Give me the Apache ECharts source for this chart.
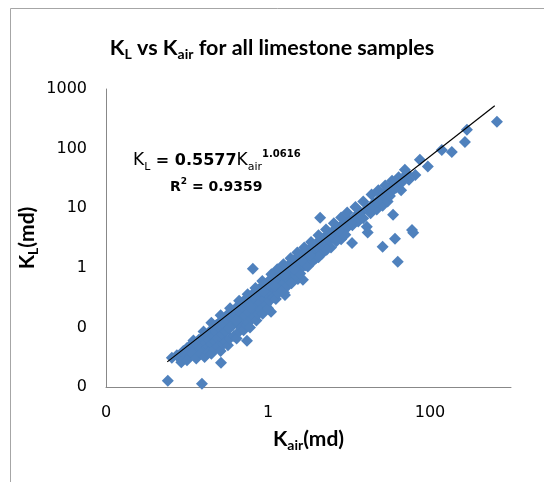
<!DOCTYPE html>
<html>
<head>
<meta charset="utf-8">
<script src="https://cdn.jsdelivr.net/npm/echarts@6/dist/echarts.min.js"></script>
<style>
html,body{margin:0;padding:0;background:#fff;}
#chart{width:544px;height:482px;}
</style>
</head>
<body>
<div id="chart"></div>
<script>
// K_air (md) values of the samples
var kAir = [
  0.058, 0.153, 0.065, 0.075, 0.082, 0.09, 0.095, 0.1, 0.105, 0.11,
  0.11, 0.12, 0.125, 0.13, 0.14, 0.14, 0.15, 0.155, 0.16, 0.17,
  0.17, 0.18, 0.19, 0.19, 0.2, 0.21, 0.21, 0.22, 0.23, 0.23,
  0.24, 0.25, 0.26, 0.263, 0.27, 0.28, 0.29, 0.3, 0.31, 0.32,
  0.33, 0.35, 0.36, 0.37, 0.39, 0.4, 0.42, 0.43, 0.45, 0.47,
  0.48, 0.5, 0.52, 0.53, 0.55, 0.55, 0.58, 0.6, 0.62, 0.65,
  0.65, 0.67, 0.7, 0.72, 0.75, 0.78, 0.8, 0.83, 0.87, 0.9,
  0.92, 0.96, 1.0, 1.02, 1.07, 1.09, 1.1, 1.15, 1.2, 1.25,
  1.3, 1.35, 1.4, 1.45, 1.5, 1.58, 1.6, 1.62, 1.65, 1.7,
  1.8, 1.85, 1.9, 2.0, 2.05, 2.15, 2.3, 2.34, 2.4, 2.5,
  2.6, 2.7, 2.75, 2.9, 3.0, 3.2, 3.3, 3.5, 3.7, 3.9,
  4.0, 4.3, 4.4, 4.6, 4.8, 5.1, 5.5, 5.8, 6.0, 6.3,
  6.8, 7.2, 7.7, 8.0, 8.5, 9.2, 10, 10.9, 11, 12,
  13, 14, 15, 16.6, 17, 17, 18.5, 20, 22, 24,
  25, 26, 26, 28, 30, 33, 35, 35, 37, 38,
  40, 42, 44, 45, 49, 55, 60, 62, 66, 75,
  94, 140, 186, 270, 286, 671,
  0.085, 0.1, 0.115, 0.13, 0.15, 0.165, 0.18, 0.2, 0.22, 0.24,
  0.26, 0.28, 0.3, 0.32, 0.34, 0.38, 0.41, 0.44, 0.46, 0.5,
  0.54, 0.57, 0.6, 0.63, 0.68, 0.72, 0.76, 0.82, 0.86, 0.95,
  1.0, 1.05, 1.15, 1.25, 1.35, 1.5, 1.75, 1.95, 2.2, 2.5,
  3.1, 3.6, 4.2, 5.3, 7, 9,
  0.12, 0.16, 0.2, 0.26, 0.34, 0.44, 0.56, 0.7, 0.85, 1.1,
  1.3, 1.55, 1.9, 2.3, 2.8, 3.4, 4.2, 5.2, 6.5, 8,
  9.5, 12, 15, 19, 23, 28, 34,
  0.4, 0.6, 0.9, 1.2, 1.6, 2.1, 2.6, 3.3, 4.5, 5.8,
  7.5, 10.5, 13.5, 18, 22, 27, 32, 36, 41, 46, 52
];
// K_L (md) values of the samples
var kL = [
  0.0127, 0.0113, 0.031, 0.034, 0.030, 0.040, 0.034, 0.045, 0.038, 0.033,
  0.050, 0.042, 0.055, 0.037, 0.050, 0.062, 0.045, 0.068, 0.040, 0.055,
  0.075, 0.048, 0.085, 0.062, 0.052, 0.095, 0.072, 0.058, 0.11, 0.085,
  0.066, 0.12, 0.095, 0.0255, 0.075, 0.14, 0.11, 0.085, 0.16, 0.13,
  0.095, 0.18, 0.14, 0.11, 0.20, 0.16, 0.12, 0.23, 0.18, 0.14,
  0.26, 0.21, 0.16, 0.30, 0.0596, 0.24, 0.18, 0.33, 0.27, 0.96,
  0.20, 0.38, 0.30, 0.23, 0.42, 0.34, 0.26, 0.48, 0.38, 0.30,
  0.53, 0.43, 0.34, 0.60, 0.47, 0.183, 0.38, 0.68, 0.55, 0.42,
  0.78, 0.62, 0.48, 0.88, 0.70, 0.38, 0.55, 0.35, 1.0, 0.80,
  0.62, 1.15, 0.92, 0.72, 1.3, 1.05, 1.5, 0.65, 1.2, 0.95,
  1.7, 0.63, 1.4, 1.1, 1.95, 1.6, 1.25, 2.3, 1.85, 1.45,
  2.6, 2.1, 6.9, 1.7, 3.1, 2.5, 3.6, 2.9, 2.2, 4.1,
  3.4, 4.8, 3.9, 3.0, 5.5, 4.5, 6.3, 2.6, 5.2, 7.3,
  6.0, 8.5, 6.8, 4.9, 3.9, 10, 8.2, 12, 9.5, 14,
  17, 2.25, 11, 16, 13, 19, 7.75, 25, 3.07, 22,
  1.26, 26, 20, 30, 44, 30, 4.3, 3.87, 36, 65,
  50, 95, 88, 129, 207, 282,
  0.026, 0.028, 0.036, 0.030, 0.036, 0.032, 0.038, 0.036, 0.043, 0.048,
  0.040, 0.052, 0.058, 0.050, 0.066, 0.072, 0.065, 0.085, 0.10, 0.09,
  0.11, 0.12, 0.10, 0.14, 0.15, 0.13, 0.17, 0.20, 0.17, 0.24,
  0.21, 0.28, 0.32, 0.30, 0.38, 0.42, 0.50, 0.55, 0.75, 0.80,
  1.05, 1.3, 1.5, 2.0, 2.8, 3.6,
  0.06, 0.085, 0.12, 0.16, 0.21, 0.28, 0.36, 0.46, 0.60, 0.78,
  0.95, 1.15, 1.45, 1.8, 2.2, 2.7, 3.5, 4.4, 5.6, 7.0,
  8.5, 10.5, 13, 17, 20, 24, 29,
  0.13, 0.22, 0.40, 0.50, 0.75, 0.95, 1.3, 1.6, 2.5, 3.5,
  4.2, 5.8, 8.0, 10, 13, 18, 16, 21, 33, 28, 38
];
// power-law trend line end points
var trendX = [0.057, 630];
var trendY = [0.0264, 524];
// tick labels (Excel "0" number format)
var xTickValues = [0.01, 1, 100];
var xTickLabels = ['0', '1', '100'];
var yTickValues = [0.01, 0.1, 1, 10, 100, 1000];
var yTickLabels = ['0', '0', '1', '10', '100', '1000'];

var points = kAir.map(function (x, i) { return [x, kL[i]]; });
var trend = trendX.map(function (x, i) { return [x, trendY[i]]; });

function tickLabel(values, labels) {
  return function (v) {
    for (var i = 0; i < values.length; i++) {
      if (Math.abs(Math.log10(v) - Math.log10(values[i])) < 1e-6) return labels[i];
    }
    return '';
  };
}

var chart = echarts.init(document.getElementById('chart'), null, {renderer: 'canvas'});
var labelFont = 'DejaVu Sans';
var titleRich = {
  b: {fontFamily: 'Lato', fontWeight: 'bold', fontSize: 21.5, color: '#000', lineHeight: 26},
  s: {fontFamily: 'Lato', fontWeight: 'bold', fontSize: 14, color: '#000', lineHeight: 12, verticalAlign: 'bottom'}
};
var nameRich = {
  b: {fontFamily: 'Lato', fontWeight: 'bold', fontSize: 21, color: '#000', lineHeight: 26},
  s: {fontFamily: 'Lato', fontWeight: 'bold', fontSize: 14, color: '#000', lineHeight: 12, verticalAlign: 'bottom'}
};
var option = {
  animation: false,
  backgroundColor: '#ffffff',
  title: {
    text: '{b|K}{s|L}{b| vs K}{s|air}{b| for all limestone samples}',
    left: 'center',
    top: 30,
    textStyle: {rich: titleRich}
  },
  grid: {left: 106, right: 33, top: 89, bottom: 95, containLabel: false},
  xAxis: {
    type: 'log',
    logBase: 10,
    min: 0.01,
    max: 1000,
    name: '{b|K}{s|air}{b|(md)}',
    nameLocation: 'middle',
    nameGap: 39,
    nameMoveOverlap: false,
    nameTextStyle: {rich: nameRich},
    axisLine: {show: true, lineStyle: {color: '#888888', width: 1}},
    axisTick: {show: false},
    splitLine: {show: false},
    minorTick: {show: false},
    axisLabel: {
      margin: 18,
      fontFamily: labelFont,
      fontSize: 16,
      color: '#000',
      formatter: tickLabel(xTickValues, xTickLabels)
    }
  },
  yAxis: {
    type: 'log',
    logBase: 10,
    min: 0.01,
    max: 1000,
    name: '{b|K}{s|L}{b|(md)}',
    nameLocation: 'middle',
    nameRotate: 90,
    nameGap: 66,
    nameMoveOverlap: false,
    nameTextStyle: {rich: nameRich},
    axisLine: {show: true, lineStyle: {color: '#888888', width: 1}},
    axisTick: {show: false},
    splitLine: {show: false},
    axisLabel: {
      margin: 19,
      fontFamily: labelFont,
      fontSize: 16,
      color: '#000',
      formatter: tickLabel(yTickValues, yTickLabels)
    }
  },
  series: [
    {
      type: 'scatter',
      data: points,
      symbol: 'diamond',
      symbolSize: 12,
      itemStyle: {color: '#4F81BD', opacity: 1},
      z: 2
    },
    {
      type: 'line',
      data: trend,
      showSymbol: false,
      symbol: 'none',
      lineStyle: {color: '#000000', width: 1.2},
      z: 3
    }
  ],
  graphic: [
    {
      type: 'rect',
      shape: {x: 10.5, y: 8.5, width: 700, height: 700},
      style: {fill: null, stroke: '#a6a6a6', lineWidth: 1},
      silent: true,
      z: 100
    },
    {
      type: 'text',
      left: 133,
      top: 149,
      style: {
        text: '{k|K}{ks|L}{e| = 0.5577}{k|K}{ks|air}{sup|1.0616}',
        rich: {
          k: {fontFamily: labelFont, fontSize: 17, color: '#000', lineHeight: 24},
          ks: {fontFamily: labelFont, fontSize: 11, color: '#000', lineHeight: 10, verticalAlign: 'bottom'},
          e: {fontFamily: labelFont, fontWeight: 'bold', fontSize: 16, color: '#000', lineHeight: 24},
          sup: {fontFamily: labelFont, fontWeight: 'bold', fontSize: 10, color: '#000', lineHeight: 10, verticalAlign: 'top'}
        }
      },
      z: 100
    },
    {
      type: 'text',
      left: 170,
      top: 177,
      style: {
        text: '{e|R}{sup|2}{e| = 0.9359}',
        rich: {
          e: {fontFamily: labelFont, fontWeight: 'bold', fontSize: 14, color: '#000', lineHeight: 20},
          sup: {fontFamily: labelFont, fontWeight: 'bold', fontSize: 9, color: '#000', lineHeight: 9, verticalAlign: 'top'}
        }
      },
      z: 100
    }
  ]
};
chart.setOption(option);
</script>
</body>
</html>
